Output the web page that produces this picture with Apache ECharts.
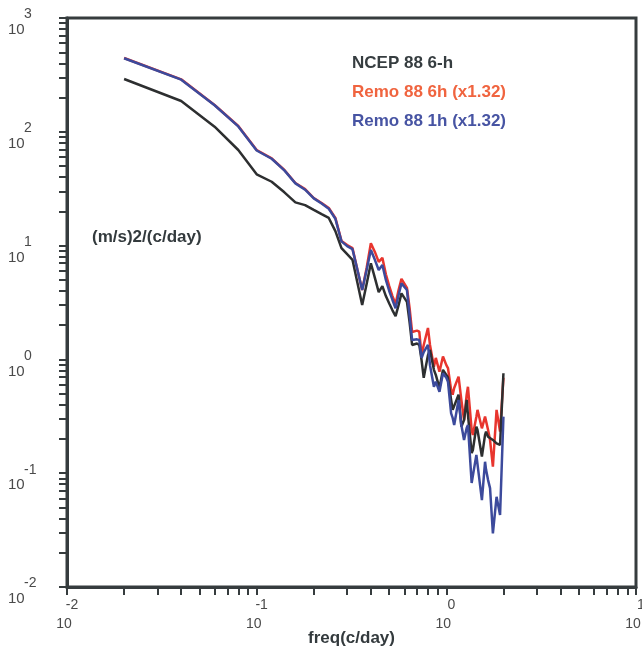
<!DOCTYPE html>
<html>
<head>
<meta charset="utf-8">
<script src="https://cdn.jsdelivr.net/npm/echarts@6/dist/echarts.min.js"></script>
<style>
html,body{margin:0;padding:0;background:#fff;overflow:hidden;width:642px;height:662px;}
#chart{width:642px;height:662px;}
</style>
</head>
<body>
<div id="chart"></div>
<script>
// frequency (c/day)
var freqs = [0.02,0.04,0.06,0.08,0.10,0.12,0.14,0.16,0.18,0.20,0.22,0.24,0.26,0.28,0.30,0.32,0.34,0.36,0.38,0.40,
  0.42,0.44,0.46,0.48,0.50,0.52,0.54,0.56,0.58,0.62,0.64,0.66,0.70,0.72,0.74,0.76,0.80,0.82,0.86,0.88,0.92,0.96,
  1.00,1.02,1.06,1.08,1.10,1.16,1.20,1.24,1.28,1.30,1.36,1.38,1.44,1.46,1.54,1.60,1.62,1.66,1.70,1.76,1.84,1.92,2.00];

// NCEP 88 6-h
var ncep = [291,186.5,110.9,69.2,42.3,36.4,29.4,24.0,22.7,20.6,18.9,17.5,13.4,9.5,8.4,7.5,4.7,3.0,4.6,7.0,
  5.2,3.9,4.4,3.6,3.1,2.7,2.4,3.0,3.8,3.2,2.13,1.34,1.38,1.34,0.99,0.69,1.09,1.21,0.81,0.73,0.56,0.81,
  0.73,0.69,0.44,0.36,0.365,0.49,0.256,0.293,0.44,0.325,0.150,0.160,0.256,0.240,0.140,0.217,0.232,0.209,0.209,0.196,0.183,0.177,0.755];

// Remo 88 6h (x1.32)
var remo6h = [445,289,172,112.5,69.2,58.5,46.2,35.5,31.4,26.2,23.7,21.4,17.5,11.0,10.1,9.5,6.1,4.07,6.36,10.5,
  8.8,7.2,7.8,5.6,4.4,3.6,3.07,4.07,5.1,4.24,2.83,1.74,1.79,1.75,1.09,1.34,1.89,1.34,0.863,1.03,0.78,1.06,
  0.89,0.84,0.54,0.49,0.56,0.705,0.44,0.293,0.49,0.575,0.240,0.217,0.314,0.36,0.248,0.314,0.306,0.240,0.196,0.114,0.36,0.232,0.69];

// Remo 88 1h (x1.32)
var remo1h = [443,287,171,111.5,68.5,58.0,45.8,35.2,31.0,26.0,23.4,21.1,17.2,10.9,9.9,9.3,6.1,4.07,6.1,9.15,
  7.5,6.1,6.75,4.99,3.99,3.33,2.81,3.68,4.66,4.07,2.46,1.48,1.50,1.48,1.03,1.16,1.34,0.89,0.575,0.637,0.52,0.755,
  0.69,0.637,0.336,0.306,0.265,0.44,0.265,0.196,0.25,0.265,0.082,0.084,0.145,0.150,0.058,0.126,0.107,0.087,0.074,0.0296,0.062,0.043,0.314];

var seriesNames = ['NCEP 88 6-h', 'Remo 88 6h (x1.32)', 'Remo 88 1h (x1.32)'];
var xRange = [0.01, 10];
var yRange = [0.01, 1000];

function pairs(ys) { return freqs.map(function (f, i) { return [f, ys[i]]; }); }

var axisColor = '#363c3e';
var labelColor = '#4a4a4a';
var font = '"Liberation Sans", Arial, Helvetica, sans-serif';

var chart = echarts.init(document.getElementById('chart'), null, {renderer: 'canvas', width: 642, height: 662});
chart.setOption({
  animation: false,
  backgroundColor: '#ffffff',
  grid: {left: 67, right: 6, top: 18, bottom: 75, containLabel: false, outerBoundsMode: 'none',
    show: true, borderColor: axisColor, borderWidth: 3, backgroundColor: 'transparent'},
  legend: {
    orient: 'vertical', left: 342, top: 49, itemWidth: 0, itemHeight: 0, itemGap: 11, icon: 'rect',
    selectedMode: false,
    textStyle: {fontFamily: font, fontSize: 17, fontWeight: 'bold', lineHeight: 18},
    data: [
      {name: seriesNames[0], textStyle: {color: '#363d40'}},
      {name: seriesNames[1], textStyle: {color: '#f0643f'}},
      {name: seriesNames[2], textStyle: {color: '#4754a3'}}
    ]
  },
  xAxis: {
    type: 'log', logBase: 10, min: xRange[0], max: xRange[1], splitNumber: 3,
    name: 'freq(c/day)', nameLocation: 'middle', nameGap: 43, nameMoveOverlap: false,
    nameTextStyle: {fontFamily: font, fontSize: 17, fontWeight: 'bold', color: '#333a3d'},
    axisLine: {show: true, lineStyle: {color: axisColor, width: 3}},
    axisTick: {show: true, length: 8, lineStyle: {color: axisColor, width: 2}},
    minorTick: {show: true, splitNumber: 9, length: 8, lineStyle: {color: axisColor, width: 2}},
    splitLine: {show: false},
    axisLabel: {
      margin: 11, showMinLabel: true, showMaxLabel: true, color: labelColor, fontFamily: font,
      formatter: function (v) { var e = Math.round(Math.log10(v)); return '{p1|}{e|' + e + '}\n{b|10}{p2|}'; },
      rich: {
        p1: {width: 10, lineHeight: 14},
        e: {fontSize: 14, lineHeight: 14, color: labelColor, fontFamily: font},
        b: {fontSize: 14, lineHeight: 24, color: labelColor, fontFamily: font},
        p2: {width: 6, lineHeight: 24}
      }
    }
  },
  yAxis: {
    type: 'log', logBase: 10, min: yRange[0], max: yRange[1], splitNumber: 5,
    axisLine: {show: true, lineStyle: {color: axisColor, width: 3}},
    axisTick: {show: true, length: 8, lineStyle: {color: axisColor, width: 2}},
    minorTick: {show: true, splitNumber: 9, length: 8, lineStyle: {color: axisColor, width: 2}},
    splitLine: {show: false},
    axisLabel: {
      margin: 59, align: 'left', padding: [10, 0, 0, 0], showMinLabel: true, showMaxLabel: true,
      color: labelColor, fontFamily: font,
      formatter: function (v) { var e = Math.round(Math.log10(v)); return '{s|}{e|' + e + '}\n{b|10}'; },
      rich: {
        s: {width: 16, lineHeight: 14},
        e: {fontSize: 14, lineHeight: 14, color: labelColor, fontFamily: font},
        b: {fontSize: 15, lineHeight: 17, color: labelColor, fontFamily: font}
      }
    }
  },
  graphic: [{
    type: 'text', left: 92, top: 229,
    style: {text: '(m/s)2/(c/day)', font: 'bold 17px ' + font, fill: '#333a3d'}
  }],
  series: [
    {name: seriesNames[1], type: 'line', data: pairs(remo6h), showSymbol: false, z: 2,
      lineStyle: {color: '#e8352e', width: 2.5}, itemStyle: {color: '#e8352e'}},
    {name: seriesNames[0], type: 'line', data: pairs(ncep), showSymbol: false, z: 3,
      lineStyle: {color: '#2d2f30', width: 2.5}, itemStyle: {color: '#2d2f30'}},
    {name: seriesNames[2], type: 'line', data: pairs(remo1h), showSymbol: false, z: 4,
      lineStyle: {color: '#3c4a9c', width: 2.5}, itemStyle: {color: '#3c4a9c'}}
  ]
});
</script>
</body>
</html>
